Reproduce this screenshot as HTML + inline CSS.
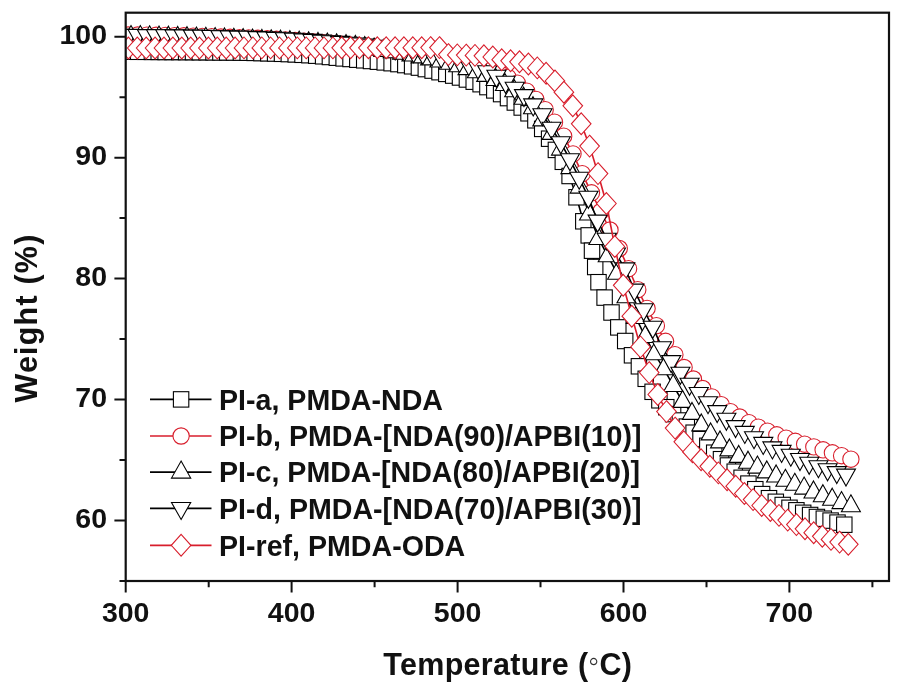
<!DOCTYPE html>
<html><head><meta charset="utf-8"><title>TGA curves</title>
<style>html,body{margin:0;padding:0;background:#fff}body{width:901px;height:690px;position:relative;overflow:hidden}</style>
</head><body>
<svg width="901" height="690" viewBox="0 0 901 690" style="position:absolute;left:0;top:0;filter:blur(0.4px)">
<defs><clipPath id="cp"><rect x="125.7" y="12.7" width="763.3" height="568.3"/></clipPath></defs>
<g clip-path="url(#cp)">
<g fill="#fff" stroke="#000" stroke-width="1.1" stroke-linejoin="miter">
<polyline fill="none" stroke-width="1.6" points="110.8,51.6 117.6,51.6 124.5,51.7 131.3,51.7 138.2,51.8 145.0,51.8 151.9,51.9 158.7,51.9 165.6,52.0 172.4,52.0 179.3,52.0 186.1,52.1 193.0,52.1 199.8,52.2 206.7,52.2 213.5,52.3 220.4,52.4 227.2,52.4 234.1,52.5 240.9,52.6 247.7,52.7 254.6,52.9 261.4,53.1 268.3,53.3 275.1,53.5 282.0,53.8 288.8,54.1 295.7,54.4 302.5,54.8 309.4,55.2 316.2,55.7 323.1,56.3 329.9,57.0 336.8,57.7 343.6,58.4 350.5,59.0 357.3,59.7 364.2,60.3 371.0,61.0 377.9,61.7 384.7,62.4 391.6,63.2 398.4,64.1 405.3,65.1 412.1,66.3 418.9,67.6 425.8,69.1 432.6,70.6 439.5,72.2 446.3,73.9 453.2,75.6 460.0,77.5 466.9,79.5 473.7,81.7 480.6,84.2 487.4,87.1 494.3,90.4 501.1,94.1 508.0,98.1 514.8,102.5 521.7,107.5 528.5,113.3 535.4,120.3 542.2,128.9 549.1,138.7 555.9,149.9 562.8,161.8 569.6,176.0 576.5,197.3 583.3,221.3 588.7,235.4 592.0,250.7 595.2,267.0 598.5,282.2 604.6,297.6 611.5,312.5 618.3,327.4 625.2,341.0 632.0,355.3 638.9,366.3 645.7,378.8 652.6,391.8 659.4,400.3 666.3,407.2 673.1,414.1 679.9,420.5 686.8,426.6 693.6,432.7 700.5,439.1 707.3,445.8 714.2,452.7 721.0,459.2 727.9,465.5 734.7,471.7 741.6,477.8 748.4,483.6 755.3,489.2 762.1,494.1 769.0,498.2 775.8,501.8 782.7,505.0 789.5,507.8 796.4,510.3 803.2,512.8 810.1,515.0 816.9,517.0 823.8,518.7 830.6,520.6 837.5,522.6 844.3,524.7"/>
<rect x="103.1" y="43.9" width="15.4" height="15.4"/>
<rect x="109.9" y="43.9" width="15.4" height="15.4"/>
<rect x="116.8" y="44.0" width="15.4" height="15.4"/>
<rect x="123.6" y="44.0" width="15.4" height="15.4"/>
<rect x="130.5" y="44.1" width="15.4" height="15.4"/>
<rect x="137.3" y="44.1" width="15.4" height="15.4"/>
<rect x="144.2" y="44.2" width="15.4" height="15.4"/>
<rect x="151.0" y="44.2" width="15.4" height="15.4"/>
<rect x="157.9" y="44.3" width="15.4" height="15.4"/>
<rect x="164.7" y="44.3" width="15.4" height="15.4"/>
<rect x="171.6" y="44.3" width="15.4" height="15.4"/>
<rect x="178.4" y="44.4" width="15.4" height="15.4"/>
<rect x="185.3" y="44.4" width="15.4" height="15.4"/>
<rect x="192.1" y="44.5" width="15.4" height="15.4"/>
<rect x="199.0" y="44.5" width="15.4" height="15.4"/>
<rect x="205.8" y="44.6" width="15.4" height="15.4"/>
<rect x="212.7" y="44.7" width="15.4" height="15.4"/>
<rect x="219.5" y="44.7" width="15.4" height="15.4"/>
<rect x="226.4" y="44.8" width="15.4" height="15.4"/>
<rect x="233.2" y="44.9" width="15.4" height="15.4"/>
<rect x="240.0" y="45.0" width="15.4" height="15.4"/>
<rect x="246.9" y="45.2" width="15.4" height="15.4"/>
<rect x="253.7" y="45.4" width="15.4" height="15.4"/>
<rect x="260.6" y="45.6" width="15.4" height="15.4"/>
<rect x="267.4" y="45.8" width="15.4" height="15.4"/>
<rect x="274.3" y="46.1" width="15.4" height="15.4"/>
<rect x="281.1" y="46.4" width="15.4" height="15.4"/>
<rect x="288.0" y="46.7" width="15.4" height="15.4"/>
<rect x="294.8" y="47.1" width="15.4" height="15.4"/>
<rect x="301.7" y="47.5" width="15.4" height="15.4"/>
<rect x="308.5" y="48.0" width="15.4" height="15.4"/>
<rect x="315.4" y="48.6" width="15.4" height="15.4"/>
<rect x="322.2" y="49.3" width="15.4" height="15.4"/>
<rect x="329.1" y="50.0" width="15.4" height="15.4"/>
<rect x="335.9" y="50.7" width="15.4" height="15.4"/>
<rect x="342.8" y="51.3" width="15.4" height="15.4"/>
<rect x="349.6" y="52.0" width="15.4" height="15.4"/>
<rect x="356.5" y="52.6" width="15.4" height="15.4"/>
<rect x="363.3" y="53.3" width="15.4" height="15.4"/>
<rect x="370.2" y="54.0" width="15.4" height="15.4"/>
<rect x="377.0" y="54.7" width="15.4" height="15.4"/>
<rect x="383.9" y="55.5" width="15.4" height="15.4"/>
<rect x="390.7" y="56.4" width="15.4" height="15.4"/>
<rect x="397.6" y="57.4" width="15.4" height="15.4"/>
<rect x="404.4" y="58.6" width="15.4" height="15.4"/>
<rect x="411.2" y="59.9" width="15.4" height="15.4"/>
<rect x="418.1" y="61.4" width="15.4" height="15.4"/>
<rect x="424.9" y="62.9" width="15.4" height="15.4"/>
<rect x="431.8" y="64.5" width="15.4" height="15.4"/>
<rect x="438.6" y="66.2" width="15.4" height="15.4"/>
<rect x="445.5" y="67.9" width="15.4" height="15.4"/>
<rect x="452.3" y="69.8" width="15.4" height="15.4"/>
<rect x="459.2" y="71.8" width="15.4" height="15.4"/>
<rect x="466.0" y="74.0" width="15.4" height="15.4"/>
<rect x="472.9" y="76.5" width="15.4" height="15.4"/>
<rect x="479.7" y="79.4" width="15.4" height="15.4"/>
<rect x="486.6" y="82.7" width="15.4" height="15.4"/>
<rect x="493.4" y="86.4" width="15.4" height="15.4"/>
<rect x="500.3" y="90.4" width="15.4" height="15.4"/>
<rect x="507.1" y="94.8" width="15.4" height="15.4"/>
<rect x="514.0" y="99.8" width="15.4" height="15.4"/>
<rect x="520.8" y="105.6" width="15.4" height="15.4"/>
<rect x="527.7" y="112.6" width="15.4" height="15.4"/>
<rect x="534.5" y="121.2" width="15.4" height="15.4"/>
<rect x="541.4" y="131.0" width="15.4" height="15.4"/>
<rect x="548.2" y="142.2" width="15.4" height="15.4"/>
<rect x="555.1" y="154.1" width="15.4" height="15.4"/>
<rect x="561.9" y="168.3" width="15.4" height="15.4"/>
<rect x="568.8" y="189.6" width="15.4" height="15.4"/>
<rect x="575.6" y="213.6" width="15.4" height="15.4"/>
<rect x="581.0" y="227.7" width="15.4" height="15.4"/>
<rect x="584.3" y="243.0" width="15.4" height="15.4"/>
<rect x="587.5" y="259.3" width="15.4" height="15.4"/>
<rect x="590.8" y="274.5" width="15.4" height="15.4"/>
<rect x="596.9" y="289.9" width="15.4" height="15.4"/>
<rect x="603.8" y="304.8" width="15.4" height="15.4"/>
<rect x="610.6" y="319.7" width="15.4" height="15.4"/>
<rect x="617.5" y="333.3" width="15.4" height="15.4"/>
<rect x="624.3" y="347.6" width="15.4" height="15.4"/>
<rect x="631.2" y="358.6" width="15.4" height="15.4"/>
<rect x="638.0" y="371.1" width="15.4" height="15.4"/>
<rect x="644.9" y="384.1" width="15.4" height="15.4"/>
<rect x="651.7" y="392.6" width="15.4" height="15.4"/>
<rect x="658.6" y="399.5" width="15.4" height="15.4"/>
<rect x="665.4" y="406.4" width="15.4" height="15.4"/>
<rect x="672.2" y="412.8" width="15.4" height="15.4"/>
<rect x="679.1" y="418.9" width="15.4" height="15.4"/>
<rect x="685.9" y="425.0" width="15.4" height="15.4"/>
<rect x="692.8" y="431.4" width="15.4" height="15.4"/>
<rect x="699.6" y="438.1" width="15.4" height="15.4"/>
<rect x="706.5" y="445.0" width="15.4" height="15.4"/>
<rect x="713.3" y="451.5" width="15.4" height="15.4"/>
<rect x="720.2" y="457.8" width="15.4" height="15.4"/>
<rect x="727.0" y="464.0" width="15.4" height="15.4"/>
<rect x="733.9" y="470.1" width="15.4" height="15.4"/>
<rect x="740.7" y="475.9" width="15.4" height="15.4"/>
<rect x="747.6" y="481.5" width="15.4" height="15.4"/>
<rect x="754.4" y="486.4" width="15.4" height="15.4"/>
<rect x="761.3" y="490.5" width="15.4" height="15.4"/>
<rect x="768.1" y="494.1" width="15.4" height="15.4"/>
<rect x="775.0" y="497.3" width="15.4" height="15.4"/>
<rect x="781.8" y="500.1" width="15.4" height="15.4"/>
<rect x="788.7" y="502.6" width="15.4" height="15.4"/>
<rect x="795.5" y="505.1" width="15.4" height="15.4"/>
<rect x="802.4" y="507.3" width="15.4" height="15.4"/>
<rect x="809.2" y="509.3" width="15.4" height="15.4"/>
<rect x="816.1" y="511.0" width="15.4" height="15.4"/>
<rect x="822.9" y="512.9" width="15.4" height="15.4"/>
<rect x="829.8" y="514.9" width="15.4" height="15.4"/>
<rect x="836.6" y="517.0" width="15.4" height="15.4"/>
</g>
<g fill="#fff" stroke="#d81e2c" stroke-width="1.1" stroke-linejoin="miter">
<polyline fill="none" stroke-width="1.6" points="109.8,35.0 119.0,35.0 128.3,35.0 137.6,35.0 146.8,35.1 156.1,35.3 165.4,35.4 174.6,35.6 183.9,35.8 193.2,36.1 202.4,36.4 211.7,36.7 220.9,37.0 230.2,37.3 239.5,37.6 248.7,37.9 258.0,38.3 267.3,38.8 276.5,39.3 285.8,39.9 295.1,40.5 304.3,41.2 313.6,41.9 322.9,42.7 332.1,43.5 341.4,44.3 350.6,45.1 359.9,46.2 369.2,47.3 378.4,48.6 387.7,49.8 397.0,51.1 406.2,52.3 415.5,53.5 424.8,54.7 434.0,55.9 443.3,57.3 452.5,58.9 461.8,60.8 471.1,62.9 480.3,65.5 489.6,68.4 498.9,72.1 508.1,77.3 517.4,83.1 526.7,91.2 535.9,99.4 545.2,109.7 554.5,122.2 563.7,136.2 573.0,153.9 582.2,173.7 591.5,192.8 600.8,211.5 610.0,230.0 619.3,248.5 628.6,268.7 637.8,289.7 647.1,308.4 656.4,325.7 665.6,341.3 674.9,354.7 684.1,367.5 693.4,379.0 702.7,388.5 711.9,396.9 721.2,404.6 730.5,411.7 739.7,417.0 749.0,422.6 758.3,427.2 767.5,431.2 776.8,434.8 786.1,438.1 795.3,441.3 804.6,444.2 813.8,446.9 823.1,449.8 832.4,452.8 841.6,455.7 850.9,459.2"/>
<circle cx="109.8" cy="35.0" r="8.15"/>
<circle cx="119.0" cy="35.0" r="8.15"/>
<circle cx="128.3" cy="35.0" r="8.15"/>
<circle cx="137.6" cy="35.0" r="8.15"/>
<circle cx="146.8" cy="35.1" r="8.15"/>
<circle cx="156.1" cy="35.3" r="8.15"/>
<circle cx="165.4" cy="35.4" r="8.15"/>
<circle cx="174.6" cy="35.6" r="8.15"/>
<circle cx="183.9" cy="35.8" r="8.15"/>
<circle cx="193.2" cy="36.1" r="8.15"/>
<circle cx="202.4" cy="36.4" r="8.15"/>
<circle cx="211.7" cy="36.7" r="8.15"/>
<circle cx="220.9" cy="37.0" r="8.15"/>
<circle cx="230.2" cy="37.3" r="8.15"/>
<circle cx="239.5" cy="37.6" r="8.15"/>
<circle cx="248.7" cy="37.9" r="8.15"/>
<circle cx="258.0" cy="38.3" r="8.15"/>
<circle cx="267.3" cy="38.8" r="8.15"/>
<circle cx="276.5" cy="39.3" r="8.15"/>
<circle cx="285.8" cy="39.9" r="8.15"/>
<circle cx="295.1" cy="40.5" r="8.15"/>
<circle cx="304.3" cy="41.2" r="8.15"/>
<circle cx="313.6" cy="41.9" r="8.15"/>
<circle cx="322.9" cy="42.7" r="8.15"/>
<circle cx="332.1" cy="43.5" r="8.15"/>
<circle cx="341.4" cy="44.3" r="8.15"/>
<circle cx="350.6" cy="45.1" r="8.15"/>
<circle cx="359.9" cy="46.2" r="8.15"/>
<circle cx="369.2" cy="47.3" r="8.15"/>
<circle cx="378.4" cy="48.6" r="8.15"/>
<circle cx="387.7" cy="49.8" r="8.15"/>
<circle cx="397.0" cy="51.1" r="8.15"/>
<circle cx="406.2" cy="52.3" r="8.15"/>
<circle cx="415.5" cy="53.5" r="8.15"/>
<circle cx="424.8" cy="54.7" r="8.15"/>
<circle cx="434.0" cy="55.9" r="8.15"/>
<circle cx="443.3" cy="57.3" r="8.15"/>
<circle cx="452.5" cy="58.9" r="8.15"/>
<circle cx="461.8" cy="60.8" r="8.15"/>
<circle cx="471.1" cy="62.9" r="8.15"/>
<circle cx="480.3" cy="65.5" r="8.15"/>
<circle cx="489.6" cy="68.4" r="8.15"/>
<circle cx="498.9" cy="72.1" r="8.15"/>
<circle cx="508.1" cy="77.3" r="8.15"/>
<circle cx="517.4" cy="83.1" r="8.15"/>
<circle cx="526.7" cy="91.2" r="8.15"/>
<circle cx="535.9" cy="99.4" r="8.15"/>
<circle cx="545.2" cy="109.7" r="8.15"/>
<circle cx="554.5" cy="122.2" r="8.15"/>
<circle cx="563.7" cy="136.2" r="8.15"/>
<circle cx="573.0" cy="153.9" r="8.15"/>
<circle cx="582.2" cy="173.7" r="8.15"/>
<circle cx="591.5" cy="192.8" r="8.15"/>
<circle cx="600.8" cy="211.5" r="8.15"/>
<circle cx="610.0" cy="230.0" r="8.15"/>
<circle cx="619.3" cy="248.5" r="8.15"/>
<circle cx="628.6" cy="268.7" r="8.15"/>
<circle cx="637.8" cy="289.7" r="8.15"/>
<circle cx="647.1" cy="308.4" r="8.15"/>
<circle cx="656.4" cy="325.7" r="8.15"/>
<circle cx="665.6" cy="341.3" r="8.15"/>
<circle cx="674.9" cy="354.7" r="8.15"/>
<circle cx="684.1" cy="367.5" r="8.15"/>
<circle cx="693.4" cy="379.0" r="8.15"/>
<circle cx="702.7" cy="388.5" r="8.15"/>
<circle cx="711.9" cy="396.9" r="8.15"/>
<circle cx="721.2" cy="404.6" r="8.15"/>
<circle cx="730.5" cy="411.7" r="8.15"/>
<circle cx="739.7" cy="417.0" r="8.15"/>
<circle cx="749.0" cy="422.6" r="8.15"/>
<circle cx="758.3" cy="427.2" r="8.15"/>
<circle cx="767.5" cy="431.2" r="8.15"/>
<circle cx="776.8" cy="434.8" r="8.15"/>
<circle cx="786.1" cy="438.1" r="8.15"/>
<circle cx="795.3" cy="441.3" r="8.15"/>
<circle cx="804.6" cy="444.2" r="8.15"/>
<circle cx="813.8" cy="446.9" r="8.15"/>
<circle cx="823.1" cy="449.8" r="8.15"/>
<circle cx="832.4" cy="452.8" r="8.15"/>
<circle cx="841.6" cy="455.7" r="8.15"/>
<circle cx="850.9" cy="459.2" r="8.15"/>
</g>
<g fill="#fff" stroke="#000" stroke-width="1.1" stroke-linejoin="miter">
<polyline fill="none" stroke-width="1.6" points="112.2,36.5 121.6,36.6 131.0,36.6 140.3,36.7 149.6,36.9 159.0,37.1 168.4,37.3 177.7,37.5 187.0,37.8 196.4,38.1 205.8,38.4 215.1,38.7 224.5,39.0 233.8,39.4 243.1,39.7 252.5,40.1 261.9,40.5 271.2,40.9 280.5,41.3 289.9,41.8 299.2,42.3 308.6,42.9 318.0,43.5 327.3,44.2 336.6,44.9 346.0,45.6 355.4,46.5 364.7,47.7 374.1,49.1 383.4,50.5 392.8,51.8 402.1,53.4 411.4,55.1 420.8,57.0 430.1,59.0 439.5,61.1 448.8,63.4 458.2,65.9 467.6,68.7 476.9,71.8 486.2,75.5 495.6,79.6 504.9,84.6 514.3,90.8 523.6,98.3 533.0,107.8 542.3,120.0 551.7,133.5 561.0,149.2 570.4,167.7 579.8,187.2 589.1,214.1 598.5,238.6 607.8,255.9 617.1,273.4 626.5,296.9 635.9,317.6 645.2,336.6 654.5,353.9 663.9,368.8 673.2,385.6 682.6,401.5 692.0,413.5 701.3,425.0 710.6,434.0 720.0,442.0 729.4,450.0 738.7,456.5 748.0,462.3 757.4,467.2 766.8,472.0 776.1,476.1 785.4,480.4 794.8,484.4 804.1,488.2 813.5,492.1 822.9,495.8 832.2,499.3 841.5,502.7 850.9,505.9"/>
<path d="M112.2 25.4L121.8 42.4H102.7Z"/>
<path d="M121.6 25.5L131.2 42.5H112.1Z"/>
<path d="M131.0 25.5L140.5 42.5H121.4Z"/>
<path d="M140.3 25.6L149.8 42.6H130.7Z"/>
<path d="M149.6 25.8L159.2 42.8H140.1Z"/>
<path d="M159.0 26.0L168.6 43.0H149.4Z"/>
<path d="M168.4 26.2L177.9 43.2H158.8Z"/>
<path d="M177.7 26.4L187.3 43.4H168.2Z"/>
<path d="M187.0 26.7L196.6 43.7H177.5Z"/>
<path d="M196.4 27.0L205.9 44.0H186.8Z"/>
<path d="M205.8 27.3L215.3 44.3H196.2Z"/>
<path d="M215.1 27.6L224.7 44.6H205.6Z"/>
<path d="M224.5 27.9L234.0 44.9H214.9Z"/>
<path d="M233.8 28.3L243.3 45.3H224.2Z"/>
<path d="M243.1 28.6L252.7 45.6H233.6Z"/>
<path d="M252.5 29.0L262.1 46.0H242.9Z"/>
<path d="M261.9 29.4L271.4 46.4H252.3Z"/>
<path d="M271.2 29.8L280.8 46.8H261.7Z"/>
<path d="M280.5 30.2L290.1 47.2H271.0Z"/>
<path d="M289.9 30.7L299.4 47.7H280.3Z"/>
<path d="M299.2 31.2L308.8 48.2H289.7Z"/>
<path d="M308.6 31.8L318.2 48.8H299.1Z"/>
<path d="M318.0 32.4L327.5 49.4H308.4Z"/>
<path d="M327.3 33.1L336.8 50.1H317.7Z"/>
<path d="M336.6 33.8L346.2 50.8H327.1Z"/>
<path d="M346.0 34.5L355.6 51.5H336.4Z"/>
<path d="M355.4 35.4L364.9 52.4H345.8Z"/>
<path d="M364.7 36.6L374.2 53.6H355.1Z"/>
<path d="M374.1 38.0L383.6 55.0H364.5Z"/>
<path d="M383.4 39.4L392.9 56.4H373.8Z"/>
<path d="M392.8 40.7L402.3 57.7H383.2Z"/>
<path d="M402.1 42.3L411.7 59.3H392.6Z"/>
<path d="M411.4 44.0L421.0 61.0H401.9Z"/>
<path d="M420.8 45.9L430.4 62.9H411.2Z"/>
<path d="M430.1 47.9L439.7 64.9H420.6Z"/>
<path d="M439.5 50.0L449.1 67.0H429.9Z"/>
<path d="M448.8 52.3L458.4 69.3H439.3Z"/>
<path d="M458.2 54.8L467.8 71.8H448.6Z"/>
<path d="M467.6 57.6L477.1 74.6H458.0Z"/>
<path d="M476.9 60.7L486.4 77.7H467.3Z"/>
<path d="M486.2 64.4L495.8 81.4H476.7Z"/>
<path d="M495.6 68.5L505.1 85.5H486.0Z"/>
<path d="M504.9 73.5L514.5 90.5H495.4Z"/>
<path d="M514.3 79.7L523.8 96.7H504.7Z"/>
<path d="M523.6 87.2L533.2 104.2H514.1Z"/>
<path d="M533.0 96.7L542.5 113.7H523.5Z"/>
<path d="M542.3 108.9L551.9 125.9H532.8Z"/>
<path d="M551.7 122.4L561.2 139.4H542.2Z"/>
<path d="M561.0 138.1L570.6 155.1H551.5Z"/>
<path d="M570.4 156.6L579.9 173.6H560.9Z"/>
<path d="M579.8 176.1L589.3 193.1H570.2Z"/>
<path d="M589.1 203.0L598.6 220.0H579.5Z"/>
<path d="M598.5 227.5L608.0 244.5H588.9Z"/>
<path d="M607.8 244.8L617.3 261.8H598.2Z"/>
<path d="M617.1 262.3L626.7 279.3H607.6Z"/>
<path d="M626.5 285.8L636.0 302.8H617.0Z"/>
<path d="M635.9 306.5L645.4 323.5H626.3Z"/>
<path d="M645.2 325.5L654.8 342.5H635.7Z"/>
<path d="M654.5 342.8L664.1 359.8H645.0Z"/>
<path d="M663.9 357.7L673.4 374.7H654.4Z"/>
<path d="M673.2 374.5L682.8 391.5H663.7Z"/>
<path d="M682.6 390.4L692.1 407.4H673.1Z"/>
<path d="M692.0 402.4L701.5 419.4H682.4Z"/>
<path d="M701.3 413.9L710.8 430.9H691.8Z"/>
<path d="M710.6 422.9L720.2 439.9H701.1Z"/>
<path d="M720.0 430.9L729.5 447.9H710.5Z"/>
<path d="M729.4 438.9L738.9 455.9H719.8Z"/>
<path d="M738.7 445.4L748.2 462.4H729.2Z"/>
<path d="M748.0 451.2L757.6 468.2H738.5Z"/>
<path d="M757.4 456.1L766.9 473.1H747.9Z"/>
<path d="M766.8 460.9L776.3 477.9H757.2Z"/>
<path d="M776.1 465.0L785.6 482.0H766.6Z"/>
<path d="M785.4 469.3L795.0 486.3H775.9Z"/>
<path d="M794.8 473.3L804.3 490.3H785.2Z"/>
<path d="M804.1 477.1L813.7 494.1H794.6Z"/>
<path d="M813.5 481.0L823.0 498.0H804.0Z"/>
<path d="M822.9 484.7L832.4 501.7H813.3Z"/>
<path d="M832.2 488.2L841.7 505.2H822.6Z"/>
<path d="M841.5 491.6L851.1 508.6H832.0Z"/>
<path d="M850.9 494.8L860.4 511.8H841.4Z"/>
</g>
<g fill="#fff" stroke="#000" stroke-width="1.1" stroke-linejoin="miter">
<polyline fill="none" stroke-width="1.6" points="110.0,35.2 119.2,35.3 128.4,35.3 137.6,35.4 146.8,35.5 156.0,35.5 165.2,35.7 174.4,35.8 183.6,35.9 192.8,36.0 202.0,36.2 211.2,36.4 220.4,36.6 229.6,36.8 238.8,37.0 248.0,37.2 257.2,37.5 266.4,37.9 275.6,38.3 284.8,38.7 294.0,39.2 303.2,39.8 312.4,40.3 321.6,41.0 330.8,41.6 340.0,42.3 349.2,43.1 358.4,43.9 367.6,45.0 376.8,46.2 386.0,47.4 395.2,48.8 404.4,50.2 413.6,51.6 422.8,53.2 432.0,54.9 441.2,56.8 450.4,58.9 459.6,61.3 468.8,64.4 478.0,67.8 487.2,71.6 496.4,76.2 505.6,82.2 514.8,88.2 524.0,95.5 533.2,104.8 542.4,114.6 551.6,128.1 560.8,142.7 570.0,159.7 579.2,178.1 588.4,197.2 597.6,221.0 606.8,239.1 616.0,253.9 625.2,268.8 634.4,290.0 643.6,309.6 652.8,327.2 662.0,347.6 671.2,361.5 680.4,373.2 689.6,384.2 698.8,393.4 708.0,402.6 717.2,411.5 726.4,419.2 735.6,426.5 744.8,432.3 754.0,437.6 763.2,443.3 772.4,447.8 781.6,451.3 790.8,455.1 800.0,459.4 809.2,463.2 818.4,466.6 827.6,469.7 836.8,472.5 846.0,475.0"/>
<path d="M110.0 46.3L119.5 29.3H100.5Z"/>
<path d="M119.2 46.4L128.8 29.4H109.7Z"/>
<path d="M128.4 46.4L138.0 29.4H118.9Z"/>
<path d="M137.6 46.5L147.2 29.5H128.1Z"/>
<path d="M146.8 46.6L156.4 29.6H137.3Z"/>
<path d="M156.0 46.6L165.6 29.6H146.4Z"/>
<path d="M165.2 46.8L174.8 29.8H155.7Z"/>
<path d="M174.4 46.9L184.0 29.9H164.9Z"/>
<path d="M183.6 47.0L193.2 30.0H174.1Z"/>
<path d="M192.8 47.1L202.4 30.1H183.3Z"/>
<path d="M202.0 47.3L211.6 30.3H192.4Z"/>
<path d="M211.2 47.5L220.8 30.5H201.7Z"/>
<path d="M220.4 47.7L230.0 30.7H210.9Z"/>
<path d="M229.6 47.9L239.2 30.9H220.1Z"/>
<path d="M238.8 48.1L248.4 31.1H229.3Z"/>
<path d="M248.0 48.3L257.6 31.3H238.4Z"/>
<path d="M257.2 48.6L266.8 31.6H247.7Z"/>
<path d="M266.4 49.0L276.0 32.0H256.9Z"/>
<path d="M275.6 49.4L285.2 32.4H266.1Z"/>
<path d="M284.8 49.8L294.4 32.8H275.3Z"/>
<path d="M294.0 50.3L303.6 33.3H284.4Z"/>
<path d="M303.2 50.9L312.8 33.9H293.7Z"/>
<path d="M312.4 51.4L322.0 34.4H302.9Z"/>
<path d="M321.6 52.1L331.2 35.1H312.1Z"/>
<path d="M330.8 52.7L340.4 35.7H321.3Z"/>
<path d="M340.0 53.4L349.6 36.4H330.5Z"/>
<path d="M349.2 54.2L358.8 37.2H339.7Z"/>
<path d="M358.4 55.0L368.0 38.0H348.9Z"/>
<path d="M367.6 56.1L377.2 39.1H358.1Z"/>
<path d="M376.8 57.3L386.4 40.3H367.2Z"/>
<path d="M386.0 58.5L395.6 41.5H376.5Z"/>
<path d="M395.2 59.9L404.8 42.9H385.7Z"/>
<path d="M404.4 61.3L414.0 44.3H394.9Z"/>
<path d="M413.6 62.7L423.2 45.7H404.1Z"/>
<path d="M422.8 64.3L432.4 47.3H413.2Z"/>
<path d="M432.0 66.0L441.6 49.0H422.5Z"/>
<path d="M441.2 67.9L450.8 50.9H431.7Z"/>
<path d="M450.4 70.0L460.0 53.0H440.9Z"/>
<path d="M459.6 72.4L469.2 55.4H450.1Z"/>
<path d="M468.8 75.5L478.4 58.5H459.2Z"/>
<path d="M478.0 78.9L487.6 61.9H468.4Z"/>
<path d="M487.2 82.7L496.8 65.7H477.7Z"/>
<path d="M496.4 87.3L506.0 70.3H486.9Z"/>
<path d="M505.6 93.3L515.1 76.3H496.1Z"/>
<path d="M514.8 99.3L524.3 82.3H505.2Z"/>
<path d="M524.0 106.6L533.5 89.6H514.5Z"/>
<path d="M533.2 115.9L542.8 98.9H523.7Z"/>
<path d="M542.4 125.7L552.0 108.7H532.9Z"/>
<path d="M551.6 139.2L561.1 122.2H542.1Z"/>
<path d="M560.8 153.8L570.3 136.8H551.2Z"/>
<path d="M570.0 170.8L579.5 153.8H560.5Z"/>
<path d="M579.2 189.2L588.8 172.2H569.7Z"/>
<path d="M588.4 208.3L598.0 191.3H578.9Z"/>
<path d="M597.6 232.1L607.1 215.1H588.1Z"/>
<path d="M606.8 250.2L616.3 233.2H597.2Z"/>
<path d="M616.0 265.0L625.5 248.0H606.5Z"/>
<path d="M625.2 279.9L634.8 262.9H615.7Z"/>
<path d="M634.4 301.1L643.9 284.1H624.9Z"/>
<path d="M643.6 320.7L653.1 303.7H634.1Z"/>
<path d="M652.8 338.3L662.3 321.3H643.2Z"/>
<path d="M662.0 358.7L671.5 341.7H652.5Z"/>
<path d="M671.2 372.6L680.8 355.6H661.7Z"/>
<path d="M680.4 384.3L689.9 367.3H670.9Z"/>
<path d="M689.6 395.3L699.1 378.3H680.1Z"/>
<path d="M698.8 404.5L708.3 387.5H689.2Z"/>
<path d="M708.0 413.7L717.5 396.7H698.5Z"/>
<path d="M717.2 422.6L726.8 405.6H707.7Z"/>
<path d="M726.4 430.3L735.9 413.3H716.9Z"/>
<path d="M735.6 437.6L745.1 420.6H726.1Z"/>
<path d="M744.8 443.4L754.3 426.4H735.2Z"/>
<path d="M754.0 448.7L763.5 431.7H744.5Z"/>
<path d="M763.2 454.4L772.8 437.4H753.7Z"/>
<path d="M772.4 458.9L781.9 441.9H762.9Z"/>
<path d="M781.6 462.4L791.1 445.4H772.1Z"/>
<path d="M790.8 466.2L800.3 449.2H781.2Z"/>
<path d="M800.0 470.5L809.5 453.5H790.5Z"/>
<path d="M809.2 474.3L818.8 457.3H799.7Z"/>
<path d="M818.4 477.7L827.9 460.7H808.9Z"/>
<path d="M827.6 480.8L837.1 463.8H818.1Z"/>
<path d="M836.8 483.6L846.3 466.6H827.2Z"/>
<path d="M846.0 486.1L855.5 469.1H836.5Z"/>
</g>
<g fill="#fff" stroke="#d81e2c" stroke-width="1.1" stroke-linejoin="miter">
<polyline fill="none" stroke-width="1.6" points="110.7,48.0 119.6,48.0 128.4,48.0 137.3,48.0 146.2,48.0 155.1,48.0 164.0,48.0 172.9,48.0 181.8,48.0 190.7,48.0 199.5,48.0 208.4,48.0 217.3,48.0 226.2,48.0 235.1,48.0 244.0,47.9 252.9,47.9 261.8,47.9 270.6,47.9 279.5,47.9 288.4,47.9 297.3,47.9 306.2,47.9 315.1,47.9 324.0,47.9 332.9,47.9 341.7,47.8 350.6,47.8 359.5,47.8 368.4,47.8 377.3,47.8 386.2,47.7 395.1,47.7 403.9,47.7 412.8,47.7 421.7,47.7 430.6,47.6 439.5,47.6 448.4,54.6 457.3,54.9 466.2,55.1 475.0,55.4 483.9,55.8 492.8,57.0 501.7,59.7 510.6,60.8 519.5,61.8 528.4,64.0 537.3,67.9 546.1,73.2 555.0,81.0 563.9,92.2 572.8,105.8 581.2,123.8 589.6,146.1 598.0,173.6 606.4,203.5 614.8,246.5 623.2,285.3 631.8,316.2 640.5,346.9 649.2,372.6 657.8,394.5 666.5,411.6 675.1,428.1 683.8,441.8 692.5,451.9 701.1,459.8 709.8,466.3 718.4,472.9 727.1,479.8 735.7,486.2 744.4,493.5 753.1,499.6 761.7,505.5 770.4,510.5 779.0,515.4 787.7,520.1 796.4,524.6 805.0,528.8 813.7,532.7 822.3,536.3 831.0,539.4 839.6,542.1 848.3,544.3"/>
<path d="M110.7 37.1L120.5 48.0L110.7 58.9L100.9 48.0Z"/>
<path d="M119.6 37.1L129.4 48.0L119.6 58.9L109.8 48.0Z"/>
<path d="M128.4 37.1L138.2 48.0L128.4 58.9L118.6 48.0Z"/>
<path d="M137.3 37.1L147.1 48.0L137.3 58.9L127.5 48.0Z"/>
<path d="M146.2 37.1L156.0 48.0L146.2 58.9L136.4 48.0Z"/>
<path d="M155.1 37.1L164.9 48.0L155.1 58.9L145.3 48.0Z"/>
<path d="M164.0 37.1L173.8 48.0L164.0 58.9L154.2 48.0Z"/>
<path d="M172.9 37.1L182.7 48.0L172.9 58.9L163.1 48.0Z"/>
<path d="M181.8 37.1L191.6 48.0L181.8 58.9L172.0 48.0Z"/>
<path d="M190.7 37.1L200.5 48.0L190.7 58.9L180.9 48.0Z"/>
<path d="M199.5 37.1L209.3 48.0L199.5 58.9L189.7 48.0Z"/>
<path d="M208.4 37.1L218.2 48.0L208.4 58.9L198.6 48.0Z"/>
<path d="M217.3 37.1L227.1 48.0L217.3 58.9L207.5 48.0Z"/>
<path d="M226.2 37.1L236.0 48.0L226.2 58.9L216.4 48.0Z"/>
<path d="M235.1 37.1L244.9 48.0L235.1 58.9L225.3 48.0Z"/>
<path d="M244.0 37.0L253.8 47.9L244.0 58.8L234.2 47.9Z"/>
<path d="M252.9 37.0L262.7 47.9L252.9 58.8L243.1 47.9Z"/>
<path d="M261.8 37.0L271.6 47.9L261.8 58.8L252.0 47.9Z"/>
<path d="M270.6 37.0L280.4 47.9L270.6 58.8L260.8 47.9Z"/>
<path d="M279.5 37.0L289.3 47.9L279.5 58.8L269.7 47.9Z"/>
<path d="M288.4 37.0L298.2 47.9L288.4 58.8L278.6 47.9Z"/>
<path d="M297.3 37.0L307.1 47.9L297.3 58.8L287.5 47.9Z"/>
<path d="M306.2 37.0L316.0 47.9L306.2 58.8L296.4 47.9Z"/>
<path d="M315.1 37.0L324.9 47.9L315.1 58.8L305.3 47.9Z"/>
<path d="M324.0 37.0L333.8 47.9L324.0 58.8L314.2 47.9Z"/>
<path d="M332.9 37.0L342.7 47.9L332.9 58.8L323.1 47.9Z"/>
<path d="M341.7 36.9L351.5 47.8L341.7 58.7L331.9 47.8Z"/>
<path d="M350.6 36.9L360.4 47.8L350.6 58.7L340.8 47.8Z"/>
<path d="M359.5 36.9L369.3 47.8L359.5 58.7L349.7 47.8Z"/>
<path d="M368.4 36.9L378.2 47.8L368.4 58.7L358.6 47.8Z"/>
<path d="M377.3 36.9L387.1 47.8L377.3 58.7L367.5 47.8Z"/>
<path d="M386.2 36.8L396.0 47.7L386.2 58.6L376.4 47.7Z"/>
<path d="M395.1 36.8L404.9 47.7L395.1 58.6L385.3 47.7Z"/>
<path d="M403.9 36.8L413.7 47.7L403.9 58.6L394.1 47.7Z"/>
<path d="M412.8 36.8L422.6 47.7L412.8 58.6L403.0 47.7Z"/>
<path d="M421.7 36.8L431.5 47.7L421.7 58.6L411.9 47.7Z"/>
<path d="M430.6 36.7L440.4 47.6L430.6 58.5L420.8 47.6Z"/>
<path d="M439.5 36.7L449.3 47.6L439.5 58.5L429.7 47.6Z"/>
<path d="M448.4 43.7L458.2 54.6L448.4 65.5L438.6 54.6Z"/>
<path d="M457.3 44.0L467.1 54.9L457.3 65.8L447.5 54.9Z"/>
<path d="M466.2 44.2L476.0 55.1L466.2 66.0L456.4 55.1Z"/>
<path d="M475.0 44.5L484.8 55.4L475.0 66.3L465.2 55.4Z"/>
<path d="M483.9 44.9L493.7 55.8L483.9 66.7L474.1 55.8Z"/>
<path d="M492.8 46.1L502.6 57.0L492.8 67.9L483.0 57.0Z"/>
<path d="M501.7 48.8L511.5 59.7L501.7 70.6L491.9 59.7Z"/>
<path d="M510.6 49.9L520.4 60.8L510.6 71.7L500.8 60.8Z"/>
<path d="M519.5 50.9L529.3 61.8L519.5 72.7L509.7 61.8Z"/>
<path d="M528.4 53.1L538.2 64.0L528.4 74.9L518.6 64.0Z"/>
<path d="M537.3 57.0L547.1 67.9L537.3 78.8L527.5 67.9Z"/>
<path d="M546.1 62.3L555.9 73.2L546.1 84.1L536.3 73.2Z"/>
<path d="M555.0 70.1L564.8 81.0L555.0 91.9L545.2 81.0Z"/>
<path d="M563.9 81.3L573.7 92.2L563.9 103.1L554.1 92.2Z"/>
<path d="M572.8 94.9L582.6 105.8L572.8 116.7L563.0 105.8Z"/>
<path d="M581.2 112.9L591.0 123.8L581.2 134.7L571.4 123.8Z"/>
<path d="M589.6 135.2L599.4 146.1L589.6 157.0L579.8 146.1Z"/>
<path d="M598.0 162.7L607.8 173.6L598.0 184.5L588.2 173.6Z"/>
<path d="M606.4 192.6L616.2 203.5L606.4 214.4L596.6 203.5Z"/>
<path d="M614.8 235.6L624.6 246.5L614.8 257.4L605.0 246.5Z"/>
<path d="M623.2 274.4L633.0 285.3L623.2 296.2L613.4 285.3Z"/>
<path d="M631.8 305.3L641.6 316.2L631.8 327.1L622.0 316.2Z"/>
<path d="M640.5 336.0L650.3 346.9L640.5 357.8L630.7 346.9Z"/>
<path d="M649.2 361.7L659.0 372.6L649.2 383.5L639.4 372.6Z"/>
<path d="M657.8 383.6L667.6 394.5L657.8 405.4L648.0 394.5Z"/>
<path d="M666.5 400.7L676.3 411.6L666.5 422.5L656.7 411.6Z"/>
<path d="M675.1 417.2L684.9 428.1L675.1 439.0L665.3 428.1Z"/>
<path d="M683.8 430.9L693.6 441.8L683.8 452.7L674.0 441.8Z"/>
<path d="M692.5 441.0L702.3 451.9L692.5 462.8L682.7 451.9Z"/>
<path d="M701.1 448.9L710.9 459.8L701.1 470.7L691.3 459.8Z"/>
<path d="M709.8 455.4L719.6 466.3L709.8 477.2L700.0 466.3Z"/>
<path d="M718.4 462.0L728.2 472.9L718.4 483.8L708.6 472.9Z"/>
<path d="M727.1 468.9L736.9 479.8L727.1 490.7L717.3 479.8Z"/>
<path d="M735.7 475.3L745.5 486.2L735.7 497.1L725.9 486.2Z"/>
<path d="M744.4 482.6L754.2 493.5L744.4 504.4L734.6 493.5Z"/>
<path d="M753.1 488.7L762.9 499.6L753.1 510.5L743.3 499.6Z"/>
<path d="M761.7 494.6L771.5 505.5L761.7 516.4L751.9 505.5Z"/>
<path d="M770.4 499.6L780.2 510.5L770.4 521.4L760.6 510.5Z"/>
<path d="M779.0 504.5L788.8 515.4L779.0 526.3L769.2 515.4Z"/>
<path d="M787.7 509.2L797.5 520.1L787.7 531.0L777.9 520.1Z"/>
<path d="M796.4 513.7L806.2 524.6L796.4 535.5L786.6 524.6Z"/>
<path d="M805.0 517.9L814.8 528.8L805.0 539.7L795.2 528.8Z"/>
<path d="M813.7 521.8L823.5 532.7L813.7 543.6L803.9 532.7Z"/>
<path d="M822.3 525.4L832.1 536.3L822.3 547.2L812.5 536.3Z"/>
<path d="M831.0 528.5L840.8 539.4L831.0 550.3L821.2 539.4Z"/>
<path d="M839.6 531.2L849.4 542.1L839.6 553.0L829.8 542.1Z"/>
<path d="M848.3 533.4L858.1 544.3L848.3 555.2L838.5 544.3Z"/>
</g>
</g>
<rect x="125.7" y="12.7" width="763.3" height="568.3" fill="none" stroke="#111" stroke-width="2.2"/>
<path d="M125.7 581.0v11.5 M208.7 581.0v6.3 M291.6 581.0v11.5 M374.6 581.0v6.3 M457.6 581.0v11.5 M540.5 581.0v6.3 M623.5 581.0v11.5 M706.5 581.0v6.3 M789.4 581.0v11.5 M872.4 581.0v6.3 M125.7 581.0h-6.2 M125.7 520.5h-11.3 M125.7 460.1h-6.2 M125.7 399.6h-11.3 M125.7 339.1h-6.2 M125.7 278.6h-11.3 M125.7 218.1h-6.2 M125.7 157.7h-11.3 M125.7 97.2h-6.2 M125.7 36.7h-11.3" stroke="#111" stroke-width="2" fill="none"/>
<g font-family="Liberation Sans, Arial, sans-serif" font-weight="bold" font-size="28.5px" fill="#111">
<text x="125.7" y="622.3" text-anchor="middle">300</text>
<text x="291.6" y="622.3" text-anchor="middle">400</text>
<text x="457.6" y="622.3" text-anchor="middle">500</text>
<text x="623.5" y="622.3" text-anchor="middle">600</text>
<text x="789.4" y="622.3" text-anchor="middle">700</text>
<text x="107" y="528.2" text-anchor="end">60</text>
<text x="107" y="407.3" text-anchor="end">70</text>
<text x="107" y="286.3" text-anchor="end">80</text>
<text x="107" y="165.4" text-anchor="end">90</text>
<text x="107" y="44.4" text-anchor="end">100</text>
</g>
<g font-family="Liberation Sans, Arial, sans-serif" font-weight="bold" font-size="30.5px" fill="#111">
<text x="507.8" y="674.6" text-anchor="middle" letter-spacing="0.3">Temperature (<tspan dy="-3.6" font-weight="normal" fill="#333">◦</tspan><tspan dy="3.6">C)</tspan></text>
<text transform="translate(37.3,318) rotate(-90)" text-anchor="middle" letter-spacing="1.2">Weight (%)</text>
</g>
<g font-family="Liberation Sans, Arial, sans-serif" font-weight="bold" font-size="28.6px" fill="#111">
<g fill="#fff" stroke="#000" stroke-width="1.1"><path d="M150 399.4H211.5" stroke-width="1.7"/><rect x="173.4" y="391.7" width="15.4" height="15.4"/></g>
<text x="219" y="409.6">PI-a, PMDA-NDA</text>
<g fill="#fff" stroke="#d81e2c" stroke-width="1.1"><path d="M150 436H211.5" stroke-width="1.7"/><circle cx="181.1" cy="436.0" r="8.15"/></g>
<text x="219" y="446.2">PI-b, PMDA-[NDA(90)/APBI(10)]</text>
<g fill="#fff" stroke="#000" stroke-width="1.1"><path d="M150 472.2H211.5" stroke-width="1.7"/><path d="M181.1 461.1L190.7 478.1H171.5Z"/></g>
<text x="219" y="482.4">PI-c, PMDA-[NDA(80)/APBI(20)]</text>
<g fill="#fff" stroke="#000" stroke-width="1.1"><path d="M150 508.4H211.5" stroke-width="1.7"/><path d="M181.1 519.5L190.7 502.5H171.5Z"/></g>
<text x="219" y="518.6">PI-d, PMDA-[NDA(70)/APBI(30)]</text>
<g fill="#fff" stroke="#d81e2c" stroke-width="1.1"><path d="M150 545.3H211.5" stroke-width="1.7"/><path d="M181.1 534.4L190.9 545.3L181.1 556.2L171.3 545.3Z"/></g>
<text x="219" y="555.5">PI-ref, PMDA-ODA</text>
</g>
</svg>
</body></html>
